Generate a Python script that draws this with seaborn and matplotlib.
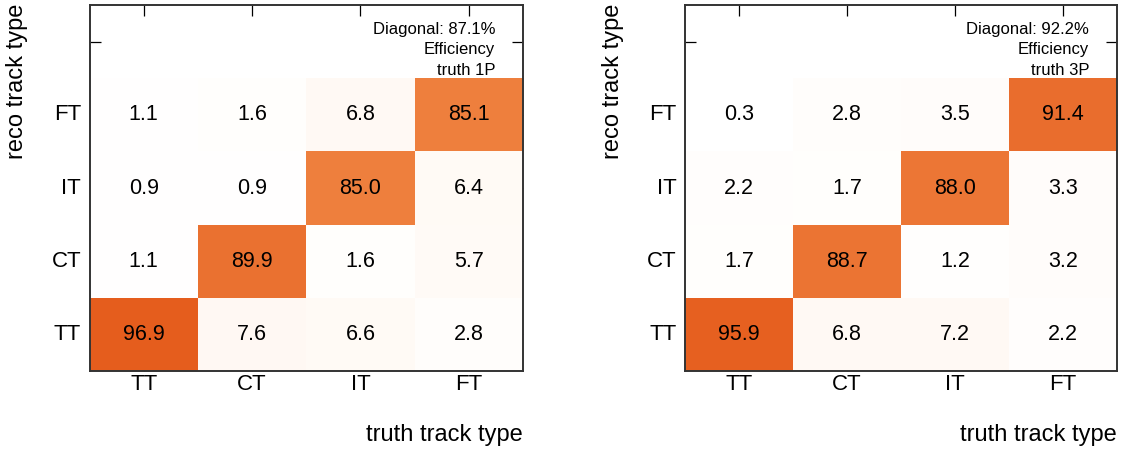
import numpy as np
import pandas as pd
import matplotlib
matplotlib.use("Agg")
import matplotlib.pyplot as plt
import seaborn as sns
from matplotlib.colors import LinearSegmentedColormap

# ---- data ----
truth_types = ["TT", "CT", "IT", "FT"]
reco_types = ["FT", "IT", "CT", "TT"]  # top to bottom

eff_1p_FT = [1.1, 1.6, 6.8, 85.1]
eff_1p_IT = [0.9, 0.9, 85.0, 6.4]
eff_1p_CT = [1.1, 89.9, 1.6, 5.7]
eff_1p_TT = [96.9, 7.6, 6.6, 2.8]

eff_3p_FT = [0.3, 2.8, 3.5, 91.4]
eff_3p_IT = [2.2, 1.7, 88.0, 3.3]
eff_3p_CT = [1.7, 88.7, 1.2, 3.2]
eff_3p_TT = [95.9, 6.8, 7.2, 2.2]

diag_1p = "87.1%"
diag_3p = "92.2%"
labels_1p = "truth 1P"
labels_3p = "truth 3P"

sns.set_theme(style="white")
plt.rcParams["font.family"] = ["Liberation Sans", "DejaVu Sans"]
plt.rcParams["text.color"] = "black"
plt.rcParams["axes.labelcolor"] = "black"
plt.rcParams["xtick.color"] = "black"
plt.rcParams["ytick.color"] = "black"

cmap = LinearSegmentedColormap.from_list(
    "rootorange",
    [(0.0, "#FFFFFF"), (0.08, "#FFF8F2"), (0.84, "#EF8240"), (1.0, "#E35516")],
)


def make_frame(rows):
    data = [[np.nan] * 4] + rows
    return pd.DataFrame(data, index=[""] + reco_types, columns=truth_types)


fig = plt.figure(figsize=(11.29, 4.53), dpi=100)
ax1 = fig.add_axes([0.0793, 0.1810, 0.3840, 0.8079])
ax2 = fig.add_axes([0.6067, 0.1810, 0.3826, 0.8079])

panels = [
    (ax1, make_frame([eff_1p_FT, eff_1p_IT, eff_1p_CT, eff_1p_TT]), diag_1p, labels_1p),
    (ax2, make_frame([eff_3p_FT, eff_3p_IT, eff_3p_CT, eff_3p_TT]), diag_3p, labels_3p),
]

for ax, df, diag, lab in panels:
    sns.heatmap(
        df, ax=ax, cmap=cmap, vmin=0, vmax=100, annot=True, fmt=".1f",
        cbar=False, annot_kws={"color": "black", "fontsize": 15.5},
        linewidths=0,
    )
    ax.set_facecolor("white")
    for s in ax.spines.values():
        s.set_visible(True)
        s.set_color("#333333")
        s.set_linewidth(1.4)
    ax.tick_params(axis="both", which="major", direction="in", length=8, width=0.9,
                   color="black", labelcolor="black", top=True, right=True,
                   bottom=True, left=True, labelsize=16)
    ax.tick_params(axis="x", pad=2)
    ax.tick_params(axis="y", pad=6)
    ax.set_yticklabels(ax.get_yticklabels(), rotation=0)
    ax.set_xticklabels(ax.get_xticklabels(), rotation=0)
    ax.set_xlabel("truth track type", fontsize=17, loc="right", color="black")
    ax.set_ylabel("reco track type", fontsize=17, loc="top", color="black")
    ax.xaxis.set_label_coords(1.0, -0.145)
    ax.yaxis.set_label_coords(-0.141, 1.005)
    for txt, yy in [("Diagonal: " + diag, 0.934), ("Efficiency", 0.878), (lab, 0.822)]:
        ax.text(0.936, yy, txt, transform=ax.transAxes, ha="right", va="center",
                fontsize=12, color="black")

fig.savefig("out.png", dpi=100)
